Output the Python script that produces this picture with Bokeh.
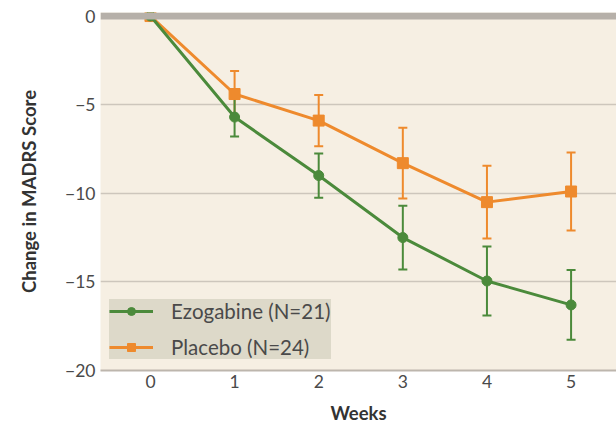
from bokeh.plotting import figure
from bokeh.models import ColumnDataSource, Whisker, TeeHead, Span, Legend, LegendItem, FixedTicker
from bokeh.embed import file_html
from bokeh.resources import INLINE

weeks = [0, 1, 2, 3, 4, 5]
ezo_mean = [0, -5.7, -9.0, -12.5, -14.95, -16.3]
ezo_err = [0, 1.1, 1.25, 1.8, 1.95, 1.97]
pla_mean = [0, -4.4, -5.9, -8.3, -10.5, -9.9]
pla_err = [0, 1.3, 1.45, 2.0, 2.05, 2.2]
y_ticks = [0, -5, -10, -15, -20]
x_ticks = [0, 1, 2, 3, 4, 5]

GREEN = "#4b8a3b"
ORANGE = "#ee8a2d"
FONT = "Lato"
TXT = "#4a4a4a"

p = figure(width=616, height=426, output_backend="svg", toolbar_location=None,
           x_range=(-0.594, 5.54), y_range=(-20, 0.2),
           min_border_left=100, min_border_right=0, min_border_top=12, min_border_bottom=55)
p.background_fill_color = "#f6efe3"
p.border_fill_color = "white"
p.outline_line_color = None

p.xgrid.grid_line_color = None
p.ygrid.grid_line_color = "#cdc6bc"
p.ygrid.grid_line_width = 1.5
p.ygrid.ticker = FixedTicker(ticks=[-5, -10, -15])

p.yaxis.ticker = FixedTicker(ticks=y_ticks)
p.yaxis.major_label_overrides = {t: ("\u2212" + str(-t) if t < 0 else str(t)) for t in y_ticks}
p.xaxis.ticker = FixedTicker(ticks=x_ticks)
for ax in (p.xaxis, p.yaxis):
    ax.major_tick_line_color = None
    ax.minor_tick_line_color = None
    ax.major_tick_out = 0
    ax.major_tick_in = 0
    ax.major_label_text_font = FONT
    ax.major_label_text_font_size = "17.5px"
    ax.major_label_text_color = TXT
    ax.axis_label_text_font = FONT
    ax.axis_label_text_font_style = "bold"
    ax.axis_label_text_font_size = "18.5px"
    ax.axis_label_text_color = "#333333"
p.yaxis.axis_line_color = None
p.xaxis.axis_line_color = "#bdb6ad"
p.xaxis.axis_line_width = 2
p.yaxis.axis_label = "Change in MADRS Score"
p.xaxis.axis_label = "Weeks"
p.yaxis.major_label_standoff = 5
p.xaxis.major_label_standoff = 4
p.xaxis.axis_label_standoff = 11
p.yaxis.axis_label_standoff = 22

p.add_layout(Span(location=0, dimension="width", line_color="#b6b0a9", line_width=7))

ezo = ColumnDataSource(dict(x=weeks, y=ezo_mean,
                            lo=[m - e for m, e in zip(ezo_mean, ezo_err)],
                            hi=[m + e for m, e in zip(ezo_mean, ezo_err)]))
pla = ColumnDataSource(dict(x=weeks, y=pla_mean,
                            lo=[m - e for m, e in zip(pla_mean, pla_err)],
                            hi=[m + e for m, e in zip(pla_mean, pla_err)]))

for src, col in ((pla, ORANGE), (ezo, GREEN)):
    w = Whisker(source=src, base="x", lower="lo", upper="hi", line_color=col, line_width=2,
                upper_head=TeeHead(size=9, line_color=col, line_width=2),
                lower_head=TeeHead(size=9, line_color=col, line_width=2))
    p.add_layout(w)

pl = p.line("x", "y", source=pla, line_color=ORANGE, line_width=3)
ps = p.scatter("x", "y", source=pla, marker="square", size=11, color=ORANGE)
el = p.line("x", "y", source=ezo, line_color=GREEN, line_width=3)
ec = p.scatter("x", "y", source=ezo, marker="circle", size=10, color=GREEN)

legend = Legend(items=[LegendItem(label="Ezogabine (N=21)", renderers=[el, ec]),
                       LegendItem(label="Placebo (N=24)", renderers=[pl, ps])],
                location=(9, 11))
legend.background_fill_color = "#ddd9c9"
legend.background_fill_alpha = 1
legend.border_line_color = None
legend.label_text_font = FONT
legend.label_text_font_size = "20.5px"
legend.label_text_color = TXT
legend.glyph_width = 44
legend.glyph_height = 20
legend.label_height = 20
legend.label_standoff = 18
legend.spacing = 12
legend.padding = 12
legend.margin = 0
p.add_layout(legend)

open("out.html", "w").write(file_html(p, INLINE))
